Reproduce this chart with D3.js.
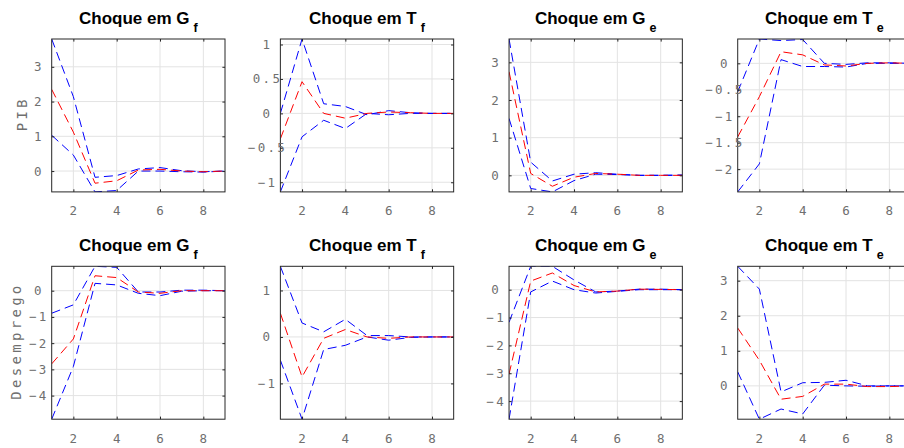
<!DOCTYPE html>
<html>
<head>
<meta charset="utf-8">
<script src="https://cdn.jsdelivr.net/npm/d3@7"></script>
<style>
  html, body { margin: 0; padding: 0; background: #fff; }
  svg { display: block; }
</style>
</head>
<body>
<svg id="chart" width="904" height="448"></svg>
<script>
// ---------------- data ----------------
const periods = [1, 2, 3, 4, 5, 6, 7, 8, 9];
const xTicks = [2, 4, 6, 8];
const rowLabels = ["PIB", "Desemprego"];
const shockLetters = ["G", "T", "G", "T"];
const shockSubs = ["f", "f", "e", "e"];

// PIB responses
const pibGfUpper = [3.8, 2.14, -0.18, -0.13, 0.06, 0.1, 0.01, -0.02, 0];
const pibGfMid   = [2.35, 1.12, -0.35, -0.28, 0.03, 0.05, 0.0, -0.02, 0];
const pibGfLower = [1.03, 0.46, -0.6, -0.56, 0.0, 0.0, -0.02, -0.03, 0];

const pibTfUpper = [0.0, 1.08, 0.14, 0.1, -0.02, 0.04, 0.01, 0.0, 0.0];
const pibTfMid   = [-0.37, 0.46, 0.0, -0.07, 0.0, 0.02, 0.01, 0.0, 0.0];
const pibTfLower = [-1.14, -0.34, -0.1, -0.22, 0.0, -0.02, 0.0, 0.0, 0.0];

const pibGeUpper = [3.62, 0.35, -0.15, 0.03, 0.07, 0.03, 0.0, 0.0, 0.01];
const pibGeMid   = [2.75, 0.05, -0.29, -0.05, 0.05, 0.03, 0.0, 0.0, 0.0];
const pibGeLower = [1.51, -0.35, -0.44, -0.14, 0.03, 0.02, 0.0, 0.0, 0.0];

const pibTeUpper = [-0.54, 0.46, 0.43, 0.45, 0.0, -0.02, 0.01, 0.01, 0.0];
const pibTeMid   = [-1.39, -0.63, 0.22, 0.16, -0.03, -0.05, 0.0, 0.01, 0.0];
const pibTeLower = [-2.43, -1.9, 0.07, -0.06, -0.06, -0.07, 0.0, 0.0, 0.0];

// Desemprego responses
const desGfUpper = [-0.86, -0.54, 0.93, 0.89, -0.05, -0.05, 0.02, 0.02, 0];
const desGfMid   = [-2.79, -1.84, 0.57, 0.5, -0.05, -0.1, 0.0, 0.0, 0];
const desGfLower = [-4.9, -2.89, 0.28, 0.22, -0.1, -0.19, -0.02, 0.0, 0];

const desTfUpper = [1.52, 0.3, 0.11, 0.38, 0.03, 0.03, 0.0, 0.0, 0.0];
const desTfMid   = [0.51, -0.86, -0.03, 0.16, 0.0, -0.03, 0.0, 0.0, 0.0];
const desTfLower = [-0.5, -1.77, -0.27, -0.18, 0.0, -0.07, -0.01, 0.0, 0.0];

const desGeUpper = [-1.17, 0.84, 0.84, 0.35, -0.08, -0.05, 0.02, 0.02, 0];
const desGeMid   = [-3.03, 0.31, 0.6, 0.15, -0.08, -0.05, 0.02, 0.01, 0];
const desGeLower = [-4.65, -0.08, 0.31, 0.0, -0.12, -0.06, 0.0, 0.0, 0];

const desTeUpper = [3.41, 2.76, -0.17, 0.09, 0.1, 0.16, 0.0, 0.0, 0.0];
const desTeMid   = [1.65, 0.73, -0.38, -0.3, 0.05, 0.05, -0.02, -0.02, 0];
const desTeLower = [0.4, -0.95, -0.66, -0.8, 0.02, 0.0, -0.01, 0.0, 0];

// y tick values per panel
const yTicksPibGf = [0, 1, 2, 3];
const yTicksPibTf = [-1, -0.5, 0, 0.5, 1];
const yTicksPibGe = [0, 1, 2, 3];
const yTicksPibTe = [-2, -1.5, -1, -0.5, 0];
const yTicksDesGf = [-4, -3, -2, -1, 0];
const yTicksDesTf = [-1, 0, 1];
const yTicksDesGe = [-4, -3, -2, -1, 0];
const yTicksDesTe = [0, 1, 2, 3];

const panels = [
  {row: 0, col: 0, up: pibGfUpper, mid: pibGfMid, lo: pibGfLower, yt: yTicksPibGf},
  {row: 0, col: 1, up: pibTfUpper, mid: pibTfMid, lo: pibTfLower, yt: yTicksPibTf},
  {row: 0, col: 2, up: pibGeUpper, mid: pibGeMid, lo: pibGeLower, yt: yTicksPibGe},
  {row: 0, col: 3, up: pibTeUpper, mid: pibTeMid, lo: pibTeLower, yt: yTicksPibTe},
  {row: 1, col: 0, up: desGfUpper, mid: desGfMid, lo: desGfLower, yt: yTicksDesGf},
  {row: 1, col: 1, up: desTfUpper, mid: desTfMid, lo: desTfLower, yt: yTicksDesTf},
  {row: 1, col: 2, up: desGeUpper, mid: desGeMid, lo: desGeLower, yt: yTicksDesGe},
  {row: 1, col: 3, up: desTeUpper, mid: desTeMid, lo: desTeLower, yt: yTicksDesTe}
];

// ---------------- layout ----------------
const colLeft0 = 51.7, colStep = 228.67, axW = 173.3;
const rowTop = [39, 266.3], axH = 152.9;
const tickFont = "'DejaVu Sans Mono', monospace";
const tickColor = "#6f6f6f";
const boxColor = "#262626";
const gridColor = "#e3e3e3";
const tickLen = 2.6;
const fmt = d => d3.format("")(d).replace("-", "\u2212");

const svg = d3.select("#chart");

panels.forEach((p, i) => {
  const x0 = colLeft0 + p.col * colStep;
  const y0 = rowTop[p.row];
  const g = svg.append("g").attr("transform", `translate(${x0},${y0})`);

  const yMin = d3.min(p.lo), yMax = d3.max(p.up);
  const x = d3.scaleLinear().domain([1, 9]).range([0, axW]);
  const y = d3.scaleLinear().domain([yMin, yMax]).range([axH, 0]);

  const clipId = "clip" + i;
  g.append("clipPath").attr("id", clipId)
    .append("rect").attr("x", 0).attr("y", 0).attr("width", axW).attr("height", axH);

  // grid
  g.append("g").selectAll("line.vx").data(xTicks).join("line")
    .attr("x1", d => x(d)).attr("x2", d => x(d))
    .attr("y1", 0).attr("y2", axH)
    .attr("stroke", gridColor).attr("stroke-width", 1);
  g.append("g").selectAll("line.hy").data(p.yt).join("line")
    .attr("x1", 0).attr("x2", axW)
    .attr("y1", d => y(d)).attr("y2", d => y(d))
    .attr("stroke", gridColor).attr("stroke-width", 1);

  // series
  const line = d3.line().x((d, k) => x(periods[k])).y(d => y(d));
  const series = [
    {v: p.lo, c: "#0000ff"},
    {v: p.up, c: "#0000ff"},
    {v: p.mid, c: "#ff0000"}
  ];
  g.append("g").attr("clip-path", `url(#${clipId})`)
    .selectAll("path").data(series).join("path")
    .attr("d", d => line(d.v))
    .attr("fill", "none")
    .attr("stroke", d => d.c)
    .attr("stroke-width", 1)
    .attr("stroke-dasharray", "9,5");

  // box
  g.append("rect").attr("x", 0).attr("y", 0).attr("width", axW).attr("height", axH)
    .attr("fill", "none").attr("stroke", boxColor).attr("stroke-width", 1);

  // inward ticks on all sides using d3 axes
  const axL = d3.axisLeft(y).tickValues(p.yt).tickSizeInner(-tickLen).tickSizeOuter(0).tickFormat("");
  const axR = d3.axisRight(y).tickValues(p.yt).tickSizeInner(-tickLen).tickSizeOuter(0).tickFormat("");
  const axB = d3.axisBottom(x).tickValues(xTicks).tickSizeInner(-tickLen).tickSizeOuter(0).tickFormat("");
  const axT = d3.axisTop(x).tickValues(xTicks).tickSizeInner(-tickLen).tickSizeOuter(0).tickFormat("");
  [[axL, 0, 0], [axR, axW, 0], [axB, 0, axH], [axT, 0, 0]].forEach(([a, tx, ty]) => {
    const ag = g.append("g").attr("transform", `translate(${tx},${ty})`).call(a);
    ag.select(".domain").remove();
    ag.selectAll("line").attr("stroke", boxColor);
  });

  // y tick labels
  g.append("g").selectAll("text").data(p.yt).join("text")
    .attr("x", -14 + 1.1).attr("y", d => y(d))
    .attr("dy", "0.36em")
    .attr("text-anchor", "middle")
    .attr("font-family", tickFont).attr("font-size", 12.5)
    .attr("letter-spacing", "2.3px")
    .attr("fill", tickColor)
    .text(d => fmt(d));

  // x tick labels
  g.append("g").selectAll("text").data(xTicks).join("text")
    .attr("x", d => x(d)).attr("y", axH + 23.5)
    .attr("text-anchor", "middle")
    .attr("font-family", tickFont).attr("font-size", 12.5)
    .attr("fill", tickColor)
    .text(d => fmt(d));

  // title
  const t = g.append("text")
    .attr("x", axW / 2).attr("y", -15)
    .attr("text-anchor", "middle")
    .attr("font-family", "'Liberation Sans', Arial, sans-serif")
    .attr("font-weight", "bold").attr("font-size", 17)
    .attr("fill", "#000");
  t.append("tspan").text("Choque em " + shockLetters[p.col]);
  t.append("tspan").attr("dx", 4).attr("dy", 7.5).attr("font-size", 12.5).text(shockSubs[p.col]);

  // row label
  if (p.col === 0) {
    const lx = p.row === 0 ? -25 : -31;
    g.append("text")
      .attr("transform", `translate(${lx},${axH / 2}) rotate(-90)`)
      .attr("text-anchor", "middle")
      .attr("dx", 1.7)
      .attr("font-family", tickFont).attr("font-size", 14)
      .attr("letter-spacing", "3.3px")
      .attr("fill", tickColor)
      .text(rowLabels[p.row]);
  }
});
</script>
</body>
</html>
